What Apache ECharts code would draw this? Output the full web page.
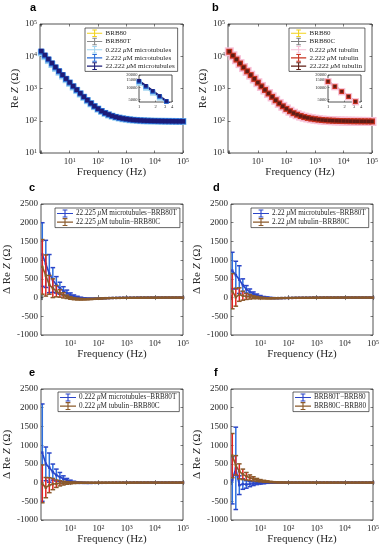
<!DOCTYPE html>
<html><head><meta charset="utf-8">
<script src="https://cdn.jsdelivr.net/npm/echarts@6/dist/echarts.min.js"></script>
<style>html,body{margin:0;padding:0;background:#fff}#c{width:382px;height:550px}</style>
</head><body><div id="c"></div>
<script>
// ---------- data ----------
const freq = [1,1.334,1.778,2.371,3.162,4.217,5.623,7.499,
  10,13.34,17.78,23.71,31.62,42.17,56.23,74.99,
  100,133.4,177.8,237.1,316.2,421.7,562.3,749.9,
  1000,1334,1778,2371,3162,4217,5623,7499,
  10000,13335,17783,23714,31623,42170,56234,74989,100000];
// panel a / b : Re Z (ohm)
const brb80 = [13600,10300,7800,5900,4450,3380,2580,1970,1510,1160,900,700,548,432,345,281,233,198,172,154,140,130,122,116,112,108,105,103,101.5,100,99,98.3,97.7,97.2,96.8,96.4,96.1,95.8,95.5,95.3,95.1];
const brb80T = [13400,10150,7700,5820,4400,3340,2550,1950,1500,1150,893,695,545,430,343,280,232,197,171,153,139,129,121.5,115.5,111.5,107.5,104.8,102.8,101.2,99.8,98.8,98.1,97.5,97,96.6,96.2,95.9,95.6,95.3,95.1,94.9];
const mt0222 = [12800,9700,7350,5550,4200,3200,2440,1870,1440,1110,862,672,528,418,335,274,228,194,169,151,138,128,121,115,111,107,104.5,102.5,101,99.6,98.6,97.9,97.3,96.8,96.4,96,95.7,95.4,95.1,94.9,94.7];
const mt2222 = [13900,10500,7950,6000,4520,3430,2610,1990,1525,1170,905,703,551,434,346,282,234,199,173,155,141,130.5,123,117,112.5,108.5,105.5,103.5,102,100.5,99.5,98.7,98.1,97.6,97.1,96.7,96.4,96.1,95.8,95.6,95.4];
const mt22222 = [14500,10900,8200,6150,4630,3500,2660,2020,1545,1185,915,710,556,437,349,284,236,200,174,156,142,131,123.5,117.5,113,109,106,104,102.4,101,100,99.2,98.6,98,97.5,97.1,96.8,96.5,96.2,96,95.8];
const brb80C = [13300,10100,7650,5780,4380,3330,2540,1945,1495,1148,890,693,544,429,342,279,231,196.5,170.5,152.5,138.5,128.5,121,115,111,107.2,104.5,102.6,101,99.7,98.7,98,97.4,96.9,96.5,96.1,95.8,95.5,95.2,95,94.8];
const tub0222 = [13700,10350,7820,5900,4460,3390,2585,1975,1512,1160,898,698,547,431,344,280.5,232.5,197.5,171.5,153.5,139.5,129.5,122,116,111.8,108,105,103,101.4,100,99,98.2,97.6,97.1,96.7,96.3,96,95.7,95.4,95.2,95];
const tub2222 = [13800,10420,7880,5950,4490,3410,2600,1985,1520,1165,902,701,549,432.5,345,281,233,198,172,154,140,130,122.3,116.3,112,108.2,105.2,103.2,101.6,100.2,99.2,98.4,97.8,97.3,96.9,96.5,96.2,95.9,95.6,95.4,95.2];
const tub22222 = [14000,10550,7970,6010,4530,3440,2620,2000,1530,1172,907,704,551,434,346,282,234,198.7,172.6,154.5,140.4,130.3,122.6,116.6,112.2,108.4,105.4,103.4,101.8,100.4,99.4,98.6,98,97.5,97,96.6,96.3,96,95.7,95.5,95.3];
// panel c (22.22 uM)
const cMtMean = [1150,900,640,470,340,250,180,120,70,30,5,-15,-25,-30,-30,-28,-25,-20,-16,-13,-10,-8,-6,-5,-4,-3,-3,-2,-2,-2,-1,-1,-1,-1,0,0,0,0,0,0,0];
const cMtErr  = [850,630,510,330,220,160,110,80,55,40,30,24,20,17,14,12,10,9,8,7,6,5,5,4,4,3,3,3,3,2,2,2,2,2,2,2,2,2,2,2,2];
const cTubMean = [820,590,340,250,170,110,60,20,-10,-30,-40,-45,-45,-42,-38,-33,-28,-23,-19,-15,-12,-10,-8,-6,-5,-4,-3,-3,-2,-2,-2,-1,-1,-1,-1,0,0,0,0,0,0];
const cTubErr  = [730,550,250,250,150,100,70,45,35,28,24,20,17,14,12,10,9,8,7,6,5,5,4,4,3,3,3,3,2,2,2,2,2,2,2,2,2,2,2,2,2];
// panel d (2.22 uM)
const dMtMean = [720,600,480,330,220,150,100,60,30,10,0,-10,-14,-15,-14,-12,-10,-8,-6,-5,-4,-3,-3,-2,-2,-2,-1,-1,-1,-1,-1,0,0,0,0,0,0,0,0,0,0];
const dMtErr  = [490,370,370,170,100,80,50,35,25,18,14,12,10,9,8,7,6,5,5,4,4,3,3,3,3,2,2,2,2,2,2,2,2,2,2,2,2,2,2,2,2];
const dTubMean = [170,10,80,50,30,20,10,0,-10,-15,-20,-20,-18,-16,-14,-12,-10,-8,-6,-5,-4,-3,-3,-2,-2,-2,-1,-1,-1,-1,0,0,0,0,0,0,0,0,0,0,0];
const dTubErr  = [470,240,180,120,80,60,40,30,22,17,14,12,10,9,8,7,6,5,5,4,4,3,3,3,3,2,2,2,2,2,2,2,2,2,2,2,2,2,2,2,2];
// panel e (0.222 uM)
const eMtMean = [800,500,400,280,200,150,100,60,30,10,0,-5,-8,-10,-10,-9,-8,-7,-6,-5,-4,-3,-3,-2,-2,-2,-1,-1,-1,-1,0,0,0,0,0,0,0,0,0,0,0];
const eMtErr  = [1300,450,390,215,160,120,80,50,35,25,20,16,13,11,9,8,7,6,5,5,4,4,3,3,3,2,2,2,2,2,2,2,2,2,2,2,2,2,2,2,2];
const eTubMean = [-35,-135,-70,-40,-30,-20,-15,-10,-8,-5,-5,-4,-4,-3,-3,-3,-2,-2,-2,-2,-1,-1,-1,-1,-1,-1,0,0,0,0,0,0,0,0,0,0,0,0,0,0,0];
const eTubErr  = [505,270,200,150,100,70,50,35,25,20,15,12,10,9,8,7,6,5,5,4,4,3,3,3,3,2,2,2,2,2,2,2,2,2,2,2,2,2,2,2,2];
// panel f (buffers)
const fTMean = [60,380,-70,-40,-50,-40,-30,-20,-15,-10,-5,-3,-2,-2,-1,-1,-1,-1,0,0,0,0,0,0,0,0,0,0,0,0,0,0,0,0,0,0,0,0,0,0,0];
const fTErr  = [630,1100,250,140,100,70,50,35,25,20,15,12,10,8,7,6,5,5,4,4,3,3,3,3,2,2,2,2,2,2,2,2,2,2,2,2,2,2,2,2,2];
const fCMean = [720,460,300,220,170,130,100,70,50,35,25,15,10,5,3,2,1,1,1,0,0,0,0,0,0,0,0,0,0,0,0,0,0,0,0,0,0,0,0,0,0];
const fCErr  = [590,260,200,140,100,75,55,40,30,25,20,15,12,10,9,8,7,6,5,5,4,4,3,3,3,2,2,2,2,2,2,2,2,2,2,2,2,2,2,2,2];
// tick values
const insetXTicks = [1,2,3,4];
const insetYTicks = [5000,10000,15000,20000];
const diffYMin = -1000, diffYMax = 2500, diffYStep = 500;
const freqMin = 0.9, freqMax = 1e5;

// ---------- styling ----------
const FONT = 'Liberation Serif';
const AX = '#262626';
const ICON = 'path://M0,4.3H20V5.7H0Z M9.3,0H10.7V10H9.3Z M7,0H13V1.3H7Z M7,8.7H13V10H7Z';
const pts = (xs, ys) => xs.map((x, i) => [x, ys[i]]);
const errPts = (xs, m, e) => xs.map((x, i) => [x, m[i] - e[i], m[i] + e[i]]);
const logLabel = v => (v <= 1.0001 ? '' : '10{s|' + Math.round(Math.log10(v)) + '}');
const supRich = { s: { fontSize: 6, verticalAlign: 'top', fontFamily: FONT, color: AX } };
const italRich = { i: { fontStyle: 'italic', fontFamily: FONT, fontSize: 11, color: AX } };

const grids = [
  { left: 40, top: 24, width: 143, height: 129 },   // a
  { left: 139, top: 75, width: 33, height: 27 },    // a inset
  { left: 228, top: 24, width: 144, height: 129 },  // b
  { left: 328, top: 75, width: 33, height: 27 },    // b inset
  { left: 41, top: 204, width: 142, height: 131 },  // c
  { left: 231, top: 204, width: 143, height: 131 }, // d
  { left: 41, top: 389, width: 142, height: 131 },  // e
  { left: 231, top: 389, width: 143, height: 131 }  // f
].map(g => Object.assign({ show: true, borderColor: AX, borderWidth: 0.8, backgroundColor: '#fff', containLabel: false }, g));

const tickStyle = { inside: true, length: 2.5, lineStyle: { color: AX, width: 0.6 } };
function mainX(gi) {
  return { type: 'log', gridIndex: gi, min: freqMin, max: freqMax, logBase: 10,
    axisLine: { show: false }, splitLine: { show: false }, axisTick: tickStyle,
    axisLabel: { formatter: logLabel, rich: supRich, fontFamily: FONT, fontSize: 9, color: AX, margin: 4, showMinLabel: true, showMaxLabel: true },
    name: 'Frequency (Hz)', nameLocation: 'middle', nameGap: 14,
    nameTextStyle: { fontFamily: FONT, fontSize: 11, color: AX } };
}
function mirrorX(gi) {
  return { type: 'log', min: freqMin, max: freqMax, logBase: 10, gridIndex: gi, position: 'top',
    axisLine: { show: false }, splitLine: { show: false }, axisTick: tickStyle, axisLabel: { show: false } };
}
function mirrorY(gi, isLog) {
  const o = isLog ? { type: 'log', min: 10, max: 1e5, logBase: 10 } : { type: 'value', min: diffYMin, max: diffYMax, interval: diffYStep };
  return Object.assign(o, { gridIndex: gi, position: 'right', axisLine: { show: false }, splitLine: { show: false },
    axisTick: tickStyle, axisLabel: { show: false } });
}
function insetX(gi) {
  return { type: 'log', gridIndex: gi, min: 1, max: 4, logBase: 10,
    axisLine: { show: false }, splitLine: { show: false },
    axisTick: { inside: true, length: 1.5, customValues: insetXTicks, lineStyle: { color: AX, width: 0.5 } },
    axisLabel: { customValues: insetXTicks, formatter: v => String(Math.round(v)), fontFamily: FONT, fontSize: 4.5, color: AX, margin: 2 } };
}
function insetY(gi) {
  return { type: 'log', gridIndex: gi, min: 4400, max: 20000, logBase: 10,
    axisLine: { show: false }, splitLine: { show: false },
    axisTick: { inside: true, length: 1.5, customValues: insetYTicks, lineStyle: { color: AX, width: 0.5 } },
    axisLabel: { customValues: insetYTicks, formatter: v => String(Math.round(v)), fontFamily: FONT, fontSize: 4.5, color: AX, margin: 1.5 } };
}
function logY(gi) {
  return { type: 'log', gridIndex: gi, min: 10, max: 1e5, logBase: 10,
    axisLine: { show: false }, splitLine: { show: false }, axisTick: tickStyle,
    axisLabel: { formatter: logLabel, rich: supRich, fontFamily: FONT, fontSize: 9, color: AX, margin: 3 },
    name: 'Re {i|Z} (Ω)', nameLocation: 'middle', nameGap: 19,
    nameTextStyle: { fontFamily: FONT, fontSize: 11, color: AX, rich: italRich } };
}
function diffY(gi) {
  return { type: 'value', gridIndex: gi, min: diffYMin, max: diffYMax, interval: diffYStep,
    axisLine: { show: false }, splitLine: { show: false }, axisTick: tickStyle,
    axisLabel: { formatter: v => (v < 0 ? '-' + (-v) : String(v)), fontFamily: FONT, fontSize: 9, color: AX, margin: 3 },
    name: 'Δ Re {i|Z} (Ω)', nameLocation: 'middle', nameGap: 26,
    nameTextStyle: { fontFamily: FONT, fontSize: 11, color: AX, rich: italRich } };
}

const xAxes = [mainX(0), insetX(1), mainX(2), insetX(3), mainX(4), mainX(5), mainX(6), mainX(7),
  mirrorX(0), mirrorX(2), mirrorX(4), mirrorX(5), mirrorX(6), mirrorX(7)];
const yAxes = [logY(0), insetY(1), logY(2), insetY(3), diffY(4), diffY(5), diffY(6), diffY(7),
  mirrorY(0, true), mirrorY(2, true), mirrorY(4, false), mirrorY(5, false), mirrorY(6, false), mirrorY(7, false)];

const series = [];
function reSeries(gi, name, arr, color, size, lw) {
  series.push({ type: 'line', name, xAxisIndex: gi, yAxisIndex: gi, data: pts(freq, arr),
    symbol: 'rect', symbolSize: size, lineStyle: { color, width: lw }, itemStyle: { color },
    silent: true, animation: false });
}
const aDefs = [['BRB80', brb80, '#f2d21b', 4, 1], ['BRB80T', brb80T, '#8c8c8c', 4, 1],
  ['0.222 μM microtubules', mt0222, '#9fd3f0', 7, 1.5], ['2.222 μM microtubules', mt2222, '#2a6ed8', 6, 1.5],
  ['22.222 μM microtubules', mt22222, '#1c1c78', 4.5, 2]];
const bDefs = [['BRB80', brb80, '#f2d21b', 4, 1], ['BRB80C', brb80C, '#7f7f7f', 4, 1],
  ['0.222 μM tubulin', tub0222, '#f7bfd6', 9, 1.5], ['2.222 μM tubulin', tub2222, '#c8321f', 6, 1.5],
  ['22.222 μM tubulin', tub22222, '#5e1c14', 3.5, 2]];
aDefs.forEach(d => { reSeries(0, d[0], d[1], d[2], d[3], d[4]); reSeries(1, d[0], d[1], d[2], d[3] * 0.8, d[4]); });
bDefs.forEach(d => { reSeries(2, d[0], d[1], d[2], d[3], d[4]); reSeries(3, d[0], d[1], d[2], d[3] * 0.8, d[4]); });

function errSeries(gi, m, e, barColor, capColor, z) {
  series.push({ type: 'custom', xAxisIndex: gi, yAxisIndex: gi, data: errPts(freq, m, e), silent: true, z, clip: true,
    encode: { x: 0, y: [1, 2] }, animation: false,
    renderItem: (params, api) => {
      const x = api.value(0), lo = api.value(1), hi = api.value(2);
      const a = api.coord([x, hi]), b = api.coord([x, lo]);
      const w = 2.3;
      const st = c => ({ stroke: c, lineWidth: 1.5, fill: null });
      return { type: 'group', children: [
        { type: 'line', shape: { x1: a[0], y1: a[1], x2: b[0], y2: b[1] }, style: st(barColor) },
        { type: 'line', shape: { x1: a[0] - w, y1: a[1], x2: a[0] + w, y2: a[1] }, style: st(capColor) },
        { type: 'line', shape: { x1: b[0] - w, y1: b[1], x2: b[0] + w, y2: b[1] }, style: st(capColor) }
      ] };
    } });
}
function meanSeries(gi, name, m, color, z) {
  series.push({ type: 'line', name, xAxisIndex: gi, yAxisIndex: gi, data: pts(freq, m), z,
    symbol: 'rect', symbolSize: 2.5, lineStyle: { color, width: 1.6 }, itemStyle: { color },
    silent: true, animation: false });
}
const BLUE_BAR = '#2c6fe0', BLUE_LINE = '#2b45c8', RED_BAR = '#e3231f', BROWN = '#8b5a2b';
const diffDefs = [
  [4, '22.225 μM microtubules−BRB80T', cMtMean, cMtErr, '22.225 μM tubulin−BRB80C', cTubMean, cTubErr],
  [5, '2.22 μM microtubules−BRB80T', dMtMean, dMtErr, '2.22 μM tubulin−BRB80C', dTubMean, dTubErr],
  [6, '0.222 μM microtubules−BRB80T', eMtMean, eMtErr, '0.222 μM tubulin−BRB80C', eTubMean, eTubErr],
  [7, 'BRB80T−BRB80', fTMean, fTErr, 'BRB80C−BRB80', fCMean, fCErr]];
diffDefs.forEach(d => {
  errSeries(d[0], d[2], d[3], BLUE_BAR, BLUE_LINE, 2);
  meanSeries(d[0], d[1], d[2], BLUE_LINE, 3);
  errSeries(d[0], d[5], d[6], RED_BAR, BROWN, 4);
  meanSeries(d[0], d[4], d[5], BROWN, 5);
});

const legFmt = n => n.replace('μ', '{i|μ}');
function legend(names, left, top, fs, ih) {
  return { data: names.map(n => ({ name: n, icon: ICON })), left, top, orient: 'vertical',
    itemWidth: 16, itemHeight: ih, itemGap: 0.6, padding: [1.5, 3, 1.5, 2],
    backgroundColor: '#fff', borderColor: AX, borderWidth: 0.7, borderRadius: 0,
    formatter: legFmt, selectedMode: false,
    textStyle: { fontFamily: FONT, fontSize: fs, color: AX, padding: [0, 0, 0, -2],
      rich: { i: { fontStyle: 'italic', fontFamily: FONT, fontSize: fs, color: AX } } } };
}
const legends = [
  legend(aDefs.map(d => d[0]), 85, 28, 7, 7.6),
  legend(bDefs.map(d => d[0]), 289, 28, 7, 7.6),
  legend([diffDefs[0][1], diffDefs[0][4]], 55, 208, 7.2, 8),
  legend([diffDefs[1][1], diffDefs[1][4]], 251, 208, 7.2, 8),
  legend([diffDefs[2][1], diffDefs[2][4]], 58, 392, 7.2, 8),
  legend([diffDefs[3][1], diffDefs[3][4]], 293, 392, 7.2, 8)];

const panelTitle = (t, left, top) => ({ text: t, left, top, padding: 0,
  textStyle: { fontFamily: 'Liberation Sans', fontWeight: 'bold', fontSize: 11, color: '#000' } });
const titles = [panelTitle('a', 30, 2), panelTitle('b', 212, 2), panelTitle('c', 29, 182),
  panelTitle('d', 213, 182), panelTitle('e', 29, 367), panelTitle('f', 214, 367)];

const chart = echarts.init(document.getElementById('c'), null, { renderer: 'canvas' });
chart.setOption({ animation: false, backgroundColor: '#fff', title: titles, grid: grids,
  xAxis: xAxes, yAxis: yAxes, legend: legends, series });
</script></body></html>
